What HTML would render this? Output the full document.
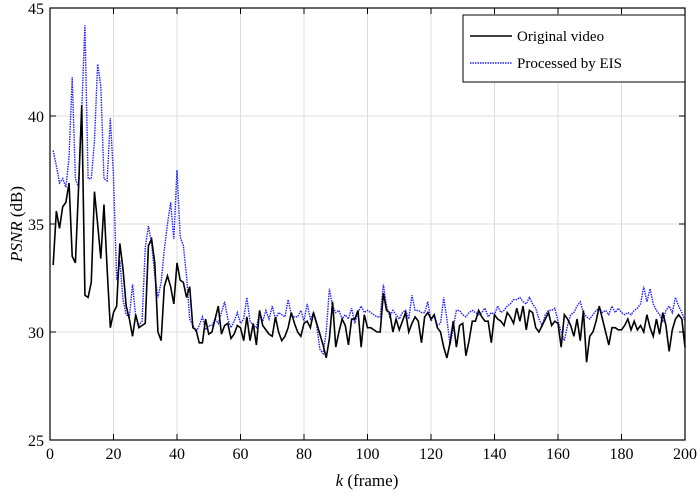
<!DOCTYPE html>
<html><head><meta charset="utf-8"><style>
body{margin:0;background:#fff;}
svg text{font-family:"Liberation Serif",serif;fill:#000;}
</style></head><body>
<svg id="chart" width="700" height="493" xmlns="http://www.w3.org/2000/svg"></svg>
<script>
const xTicks=[0,20,40,60,80,100,120,140,160,180,200];
const yTicks=[25,30,35,40,45];
const seriesNames=["Original video","Processed by EIS"];
const original=[33.1,35.6,34.8,35.8,36.0,36.9,33.5,33.2,36.7,40.5,31.7,31.6,32.3,36.5,35.0,33.4,35.9,32.9,30.2,30.9,31.2,34.1,32.9,31.2,30.6,29.8,30.8,30.2,30.3,30.4,34.0,34.3,33.2,30.0,29.6,32.1,32.6,32.1,31.3,33.2,32.4,32.3,31.6,32.1,30.2,30.1,29.5,29.5,30.6,29.9,
30.0,30.6,31.2,29.9,30.3,30.4,29.7,29.9,30.3,30.2,29.6,30.7,29.6,30.4,29.4,31.0,30.3,30.1,29.9,29.8,30.7,30.0,29.6,29.8,30.2,30.9,30.4,30.0,29.8,30.4,30.5,30.2,30.9,30.4,29.9,29.4,28.8,29.7,31.4,29.3,30.0,30.6,30.3,29.4,30.6,30.6,31.0,29.3,30.8,30.2,30.2,30.1,30.0,30.0,31.8,31.0,30.9,30.0,30.6,30.1,30.5,30.9,30.0,30.4,30.7,30.5,29.5,30.7,30.9,30.6,30.8,30.2,
30.0,29.3,28.8,29.5,30.5,29.3,30.3,30.4,28.9,29.6,30.5,30.5,31.0,30.7,30.5,30.5,29.5,30.8,30.6,30.5,30.3,30.9,30.7,30.4,31.1,30.5,31.2,30.1,31.0,30.9,30.2,30.0,30.3,30.6,30.9,30.3,30.5,30.4,29.3,30.8,30.6,30.3,29.8,30.6,29.6,31.0,28.6,29.8,30.0,30.5,31.2,30.6,30.0,29.4,30.2,30.2,30.1,30.1,30.3,30.6,30.1,30.5,30.1,30.3,30.0,30.8,30.2,29.8,30.6,29.9,30.9,30.3,29.1,30.1,30.6,30.8,30.6,29.3];
const processed=[38.4,37.7,36.9,37.1,36.7,38.1,41.8,37.1,36.7,40.3,44.2,37.1,37.1,38.8,42.4,41.4,37.1,37.0,39.9,37.2,32.4,33.3,31.5,30.8,30.7,32.2,30.7,30.3,30.5,33.9,34.9,34.1,32.6,31.6,32.3,33.8,35.0,36.0,34.3,37.5,34.4,34.0,32.6,30.6,30.3,30.0,30.3,30.7,30.1,30.3,
30.3,30.6,30.4,30.9,31.4,30.6,30.2,30.5,30.9,30.4,30.6,31.6,30.5,30.3,30.2,30.9,30.5,31.0,30.6,31.2,30.6,30.9,30.8,30.7,31.5,30.8,30.7,30.7,31.0,30.5,31.3,30.6,30.9,30.3,29.2,29.0,30.0,32.0,31.2,30.9,31.0,30.6,30.8,30.6,31.1,30.4,30.9,31.2,30.9,31.0,30.9,30.8,30.7,30.7,32.2,31.2,30.7,31.0,30.8,30.6,30.9,31.0,30.6,31.7,31.0,31.0,30.9,30.9,31.4,30.5,
30.8,30.3,30.4,31.6,30.6,29.4,30.2,31.0,31.0,30.8,30.7,30.9,31.0,30.9,30.8,30.9,31.1,30.7,30.9,30.8,31.2,30.9,31.0,31.2,31.3,31.5,31.5,31.6,31.4,31.3,31.6,31.3,31.1,30.6,30.3,30.8,31.0,31.0,31.1,30.5,30.0,29.6,30.3,30.8,30.9,31.2,31.4,30.9,30.7,30.6,30.8,31.0,31.1,30.9,31.0,30.8,31.2,30.9,31.1,30.9,30.8,30.9,30.8,31.0,31.1,31.3,32.1,31.4,32.0,31.3,31.0,30.8,30.5,31.0,31.2,30.9,31.6,31.2,30.9,30.5];

const NS="http://www.w3.org/2000/svg";
const svg=document.getElementById('chart');
const L=50,R=685,T=8,B=440;
const xs=k=>L+(k-0)/(200-0)*(R-L);
const ys=v=>B-(v-25)/(45-25)*(B-T);
function mk(tag,attrs,parent){const e=document.createElementNS(NS,tag);for(const a in attrs)e.setAttribute(a,attrs[a]);(parent||svg).appendChild(e);return e;}

const grid=mk('g',{});


xTicks.forEach(t=>{const l=mk('line',{x1:xs(t),x2:xs(t),y1:T,y2:B,stroke:'#dcdcdc','stroke-width':1},grid);

});
yTicks.forEach(t=>{const l=mk('line',{x1:L,x2:R,y1:ys(t),y2:ys(t),stroke:'#dcdcdc','stroke-width':1},grid);

});

function path(arr){return arr.map((v,i)=>(i?'L':'M')+xs(i+1).toFixed(2)+','+ys(v).toFixed(2)).join('');}
const p1=mk('path',{d:path(processed),fill:'none',stroke:'#2020ff','stroke-width':1.4,'stroke-dasharray':'1.5,1'});


const p0=mk('path',{d:path(original),fill:'none',stroke:'#000','stroke-width':1.6});



const frame=mk('rect',{x:L,y:T,width:R-L,height:B-T,fill:'none',stroke:'#000','stroke-width':1.2});



xTicks.forEach(t=>{
 mk('line',{x1:xs(t),x2:xs(t),y1:B,y2:B-6,stroke:'#000'});
 mk('line',{x1:xs(t),x2:xs(t),y1:T,y2:T+6,stroke:'#000'});
 const tx=mk('text',{x:xs(t),y:B+19,'text-anchor':'middle','font-size':16});tx.textContent=t;
 
 
});
yTicks.forEach(t=>{
 mk('line',{x1:L,x2:L+6,y1:ys(t),y2:ys(t),stroke:'#000'});
 mk('line',{x1:R,x2:R-6,y1:ys(t),y2:ys(t),stroke:'#000'});
 const tx=mk('text',{x:L-6,y:ys(t)+6,'text-anchor':'end','font-size':16});tx.textContent=t;
 
 
});
</script>
<svg width="700" height="493" style="position:absolute;left:0;top:0" xmlns="http://www.w3.org/2000/svg">
<text x="367" y="486" text-anchor="middle" font-size="17"><tspan font-style="italic">k</tspan> (frame)</text>
<text transform="translate(22,224) rotate(-90)" text-anchor="middle" font-size="17"><tspan font-style="italic">PSNR</tspan> (dB)</text>
<g>
<rect x="463" y="15" width="222" height="67" fill="#fff" stroke="#000" stroke-width="1"/>
<line x1="470" x2="512" y1="36" y2="36" stroke="#000" stroke-width="1.6"/>
<text x="517" y="41" font-size="15">Original video</text>
<line x1="470" x2="512" y1="63" y2="63" stroke="#2020ff" stroke-width="1.4" stroke-dasharray="1.5,1"/>
<text x="517" y="68" font-size="15">Processed by EIS</text>
</g>
</svg>
</body></html>
